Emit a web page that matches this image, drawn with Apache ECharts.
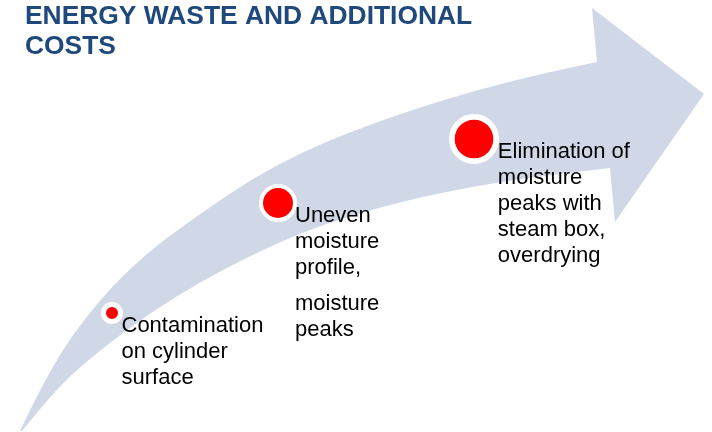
<!DOCTYPE html>
<html>
<head>
<meta charset="utf-8">
<script src="https://cdn.jsdelivr.net/npm/echarts@6/dist/echarts.min.js"></script>
<style>
  html, body { margin: 0; padding: 0; background: #fff; }
  #chart { width: 712px; height: 432px; }
</style>
</head>
<body>
<div id="chart"></div>
<script>
// arrow outline, in page pixels (x right, y down)
const upperEdge = [[20, 431], [50, 367], [100, 298], [150, 250], [200, 214], [250, 180], [300, 153], [350, 132], [400, 114], [450, 98], [500, 84], [550, 72], [597, 62]]
const lowerEdge = [[22, 431], [60, 385], [100, 350], [150, 313], [200, 282], [250, 256], [300, 233], [350, 216], [400, 202], [450, 191], [500, 182], [550, 175], [610, 168]]
const arrowHead = [[592, 8], [704, 94], [615, 222]]

// stages along the arrow
const stagePoints = [[112, 313], [278, 203], [474, 139]]
const dotRadius = [6, 15, 19.3]
const ringRadius = [11, 19, 25]
const stageLabels = [
  'Contamination\non cylinder\nsurface',
  'Uneven\nmoisture\nprofile,\n{gap| }\nmoisture\npeaks',
  'Elimination of\nmoisture\npeaks with\nsteam box,\noverdrying'
]

const titleText = 'ENERGY WASTE AND ADDITIONAL\nCOSTS'

const chart = echarts.init(document.getElementById('chart'))

// smooth an open run of points: quadratic curves through the midpoints
const smoothRun = (pts, first) => {
  let d = (first ? 'M' : 'L') + pts[0][0] + ' ' + pts[0][1]
  for (let i = 1; i < pts.length - 1; i++) {
    const mx = (pts[i][0] + pts[i + 1][0]) / 2
    const my = (pts[i][1] + pts[i + 1][1]) / 2
    d += ' Q' + pts[i][0] + ' ' + pts[i][1] + ' ' + mx + ' ' + my
  }
  const last = pts[pts.length - 1]
  return d + ' L' + last[0] + ' ' + last[1]
}

const option = {
  animation: false,
  backgroundColor: '#ffffff',
  title: {
    text: titleText,
    left: 25,
    top: 2,
    padding: 0,
    textStyle: {
      fontFamily: 'Liberation Sans, Arial, sans-serif',
      fontSize: 26.4,
      fontWeight: 'bold',
      lineHeight: 30,
      color: '#1F497D'
    }
  },
  grid: { left: 0, right: 0, top: 0, bottom: 0 },
  xAxis: { type: 'value', min: 0, max: 712, show: false },
  yAxis: { type: 'value', min: 0, max: 432, inverse: true, show: false },
  series: [
    {
      type: 'custom',
      z: 1,
      silent: true,
      data: [[0, 0]],
      renderItem: (params, api) => {
        const up = upperEdge.map(p => api.coord(p))
        const low = lowerEdge.map(p => api.coord(p)).reverse()
        const head = arrowHead.map(p => api.coord(p))
        const d = smoothRun(up, true) + ' ' +
          head.map(p => 'L' + p[0] + ' ' + p[1]).join(' ') + ' ' +
          smoothRun(low, false) + ' Z'
        return { type: 'path', shape: { pathData: d }, style: { fill: '#D0D8E8' } }
      }
    },
    {
      type: 'scatter',
      z: 3,
      symbol: 'circle',
      data: stagePoints.map((p, i) => {
        const bw = ringRadius[i] - dotRadius[i]
        return {
          value: p,
          symbolSize: dotRadius[i] + ringRadius[i],
          itemStyle: { color: '#FF0000', borderColor: '#ffffff', borderWidth: bw, opacity: 1 },
          label: { formatter: stageLabels[i], distance: ringRadius[i] - 4 - (dotRadius[i] + ringRadius[i]) / 2 }
        }
      }),
      label: {
        show: true,
        position: 'right',
        align: 'left',
        verticalAlign: 'top',
        offset: [0, -0.5],
        fontFamily: 'Liberation Sans, Arial, sans-serif',
        fontSize: 22,
        lineHeight: 26,
        color: '#000000',
        rich: {
          gap: { fontSize: 2, lineHeight: 10 }
        }
      }
    }
  ]
}

chart.setOption(option)
</script>
</body>
</html>
